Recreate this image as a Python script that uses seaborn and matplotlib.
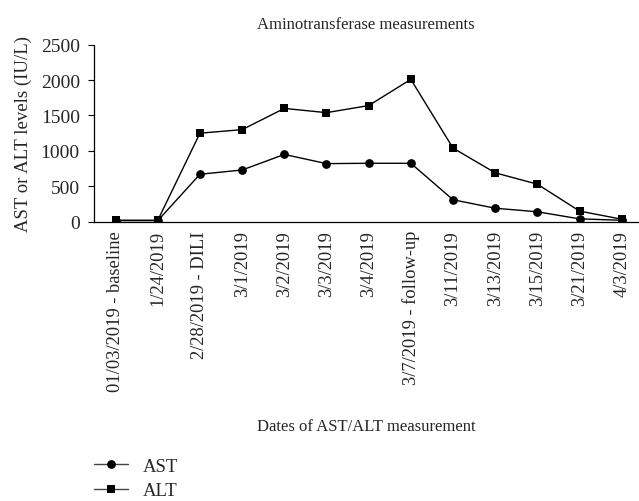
import matplotlib
matplotlib.use("Agg")
import matplotlib.pyplot as plt
import seaborn as sns
import pandas as pd

dates = ["01/03/2019 - baseline", "1/24/2019", "2/28/2019 - DILI", "3/1/2019",
         "3/2/2019", "3/3/2019", "3/4/2019", "3/7/2019 - follow-up",
         "3/11/2019", "3/13/2019", "3/15/2019", "3/21/2019", "4/3/2019"]
ast = [15, 15, 670, 730, 950, 820, 825, 825, 310, 190, 140, 40, 20]
alt = [20, 20, 1250, 1300, 1600, 1540, 1640, 2010, 1040, 690, 530, 150, 35]
yticks = [0, 500, 1000, 1500, 2000, 2500]

df = pd.DataFrame({
    "date": dates * 2,
    "value": ast + alt,
    "series": ["AST"] * len(dates) + ["ALT"] * len(dates),
})

sns.set_theme(style="ticks")
plt.rcParams["font.family"] = ["Liberation Serif", "DejaVu Serif"]

fig = plt.figure(figsize=(6.39, 5.02), dpi=100)
ax = fig.add_axes([0.1466, 0.5564, 0.8514, 0.3526])

sns.lineplot(data=df, x="date", y="value", hue="series", style="series",
             markers={"AST": "o", "ALT": "s"}, dashes=False,
             palette={"AST": "black", "ALT": "black"}, sort=False,
             markersize=6.3, linewidth=1, markeredgewidth=0, ax=ax)

ax.set_xlim(-0.52, 12.38)
ax.set_ylim(0, 2500)
ax.set_yticks(yticks)
ax.set_xticks(range(len(dates)))
ax.set_xticklabels(dates, rotation=90, fontsize=13.3)
ax.tick_params(axis="y", labelsize=14, length=4, width=0.8, color="black", pad=6)
ax.tick_params(axis="x", length=0, pad=6)
for s in ["top", "right"]:
    ax.spines[s].set_visible(False)
for s in ["left", "bottom"]:
    ax.spines[s].set_color("black")
    ax.spines[s].set_linewidth(0.9)

ax.set_title("Aminotransferase measurements", fontsize=12, pad=12)
ax.set_ylabel("AST or ALT levels (IU/L)", fontsize=13.5, labelpad=6)
ax.set_xlabel("")
fig.text(0.573, 1 - 427 / 502, "Dates of AST/ALT measurement", ha="center", va="center", fontsize=12)

handles, labels = ax.get_legend_handles_labels()
ax.get_legend().remove()
for h in handles:
    h.set_color("#444444")
    h.set_markerfacecolor("black")
    h.set_markeredgecolor("black")
fig.legend(handles, labels, loc="upper left", bbox_to_anchor=(0.138, 1 - 453 / 502),
           frameon=False, fontsize=13.5, handlelength=1.85, labelspacing=0.4,
           handletextpad=0.75, borderaxespad=0, borderpad=0.3)

fig.savefig("out.png", dpi=100)
